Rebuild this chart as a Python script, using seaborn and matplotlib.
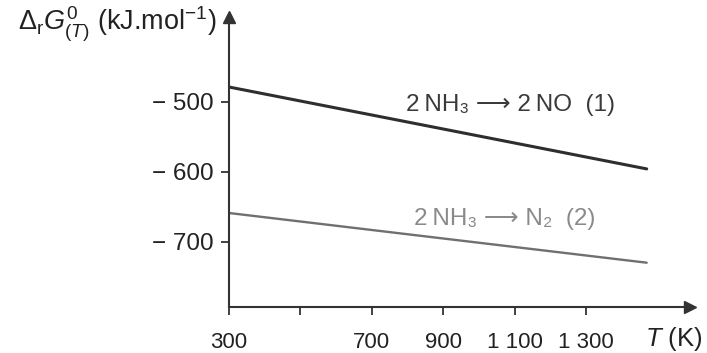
import matplotlib
matplotlib.use("Agg")
import matplotlib.pyplot as plt
import seaborn as sns
import numpy as np

# Data
T = [300, 1470]
dG1 = [-479, -596]
dG2 = [-659, -730]
xticks = [300, 500, 700, 900, 1100, 1300]
xticklabels = ["300", "", "700", "900", "1 100", "1 300"]
yticks = [-500, -600, -700]
yticklabels = ["\u2212 500", "\u2212 600", "\u2212 700"]
label1 = "2\u2009NH\u2083 \u27f6 2\u2009NO  (1)"
label2 = "2\u2009NH\u2083 \u27f6 N\u2082  (2)"

sns.set_style("ticks")
FAM = ['Liberation Sans', 'DejaVu Sans']
plt.rcParams['font.family'] = FAM
plt.rcParams['mathtext.fontset'] = 'custom'
plt.rcParams['mathtext.rm'] = 'Liberation Sans'
plt.rcParams['mathtext.it'] = 'Liberation Sans:italic'
plt.rcParams['mathtext.bf'] = 'Liberation Sans:bold'

W, H = 707, 353
fig = plt.figure(figsize=(W / 100, H / 100), dpi=100)
x0, x1 = 229, 690
y0, y1 = 307, 17
ax = fig.add_axes([x0 / W, 1 - y0 / H, (x1 - x0) / W, (y0 - y1) / H])

# axis limits from pixel calibration: 35.7 px/100 K, 70 px/100 kJ
ax.set_xlim(300, 300 + (x1 - x0) / 0.357)
ax.set_ylim(-500 - (y0 - 101.7) / 0.7, -500 + (101.7 - y1) / 0.7)

dark = "#333333"
grey = "#8a8a8a"
sns.lineplot(x=T, y=dG1, ax=ax, color="#2e2e2e", lw=2.2)
sns.lineplot(x=T, y=dG2, ax=ax, color="#707070", lw=1.7)

ax.text(795, -513, label1, fontsize=17.5,
        color="#3a3a3a", ha="left", va="baseline", family=FAM)
ax.text(817, -676, label2, fontsize=17.5,
        color=grey, ha="left", va="baseline", family=FAM)

for s in ["top", "right"]:
    ax.spines[s].set_visible(False)
for s in ["left", "bottom"]:
    ax.spines[s].set_color(dark)
    ax.spines[s].set_linewidth(1.5)

ax.plot(1, 0, ">", color=dark, ms=9, transform=ax.transAxes, clip_on=False)
ax.plot(0, 1, "^", color=dark, ms=9, transform=ax.transAxes, clip_on=False)

ax.set_xticks(xticks)
ax.set_xticklabels(xticklabels)
ax.set_yticks(yticks)
ax.set_yticklabels(yticklabels)
ax.tick_params(axis="both", direction="out", length=6, width=1.3, color=dark,
               labelcolor="#222222")
ax.tick_params(axis="x", pad=12, labelsize=16)
ax.tick_params(axis="y", pad=5, labelsize=17.5)

fig.text(18 / W, 1 - 31 / H,
         r"$\Delta_{\rm r}G^{0}_{(T)}$ (kJ.mol$^{-1}$)",
         fontsize=19.5, color="#222222", ha="left", va="baseline")
fig.text(703 / W, 1 - 346 / H, r"$T$ (K)", fontsize=18.5, color="#222222",
         ha="right", va="baseline")

fig.savefig("out.png", dpi=100)
